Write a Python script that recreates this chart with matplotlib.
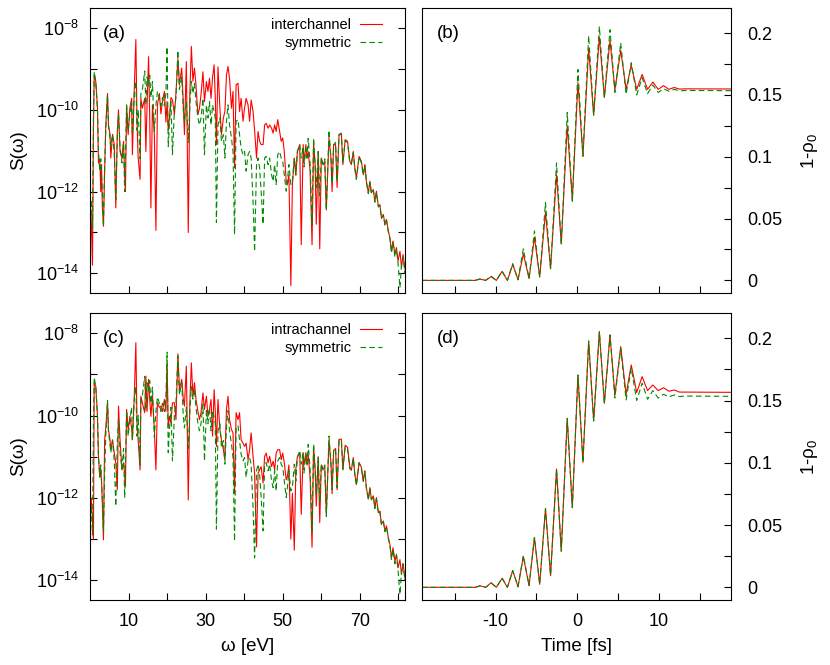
import numpy as np
import matplotlib
matplotlib.use("Agg")
import matplotlib.pyplot as plt
from matplotlib.ticker import NullLocator

plt.rcParams["font.family"] = ["Liberation Sans", "DejaVu Sans"]
plt.rcParams["mathtext.default"] = "regular"

# photon energy grid shared by the spectra [eV]
omega = [
    0.0, 0.3, 0.65, 0.9, 1.1, 1.5, 1.95, 2.2, 2.55, 2.8,
    3.0, 3.2, 3.5, 3.8, 4.1, 4.55, 4.8, 5.2, 5.4, 5.85,
    6.3, 6.7, 7.1, 7.4, 7.8, 8.3, 8.7, 9.0, 9.2, 9.5,
    9.9, 10.35, 10.8, 11.0, 11.5, 11.9, 12.2, 12.5, 13.0, 13.2,
    13.6, 14.2, 14.5, 14.8, 15.2, 15.5, 15.8, 16.2, 16.7, 17.1,
    17.5, 18.0, 18.4, 18.8, 19.3, 19.7, 20.0, 20.3, 20.6, 21.0,
    21.4, 21.9, 22.3, 22.8, 23.2, 23.8, 24.2, 24.5, 25.0, 25.5,
    25.9, 26.3, 26.7, 27.1, 27.5, 28.0, 28.4, 28.8, 29.3, 29.7,
    30.2, 30.6, 31.0, 31.4, 31.8, 32.2, 32.5, 32.8, 33.2, 33.7,
    34.1, 34.6, 35.0, 35.4, 35.8, 36.2, 36.7, 37.1, 37.5, 37.9,
    38.4, 38.8, 39.2, 39.7, 40.1, 40.5, 41.0, 41.4, 41.8, 42.3,
    42.7, 43.2, 43.6, 44.0, 44.4, 44.9, 45.3, 45.7, 46.2, 46.6,
    47.1, 47.5, 47.9, 48.3, 48.7, 49.2, 49.6, 50.0, 50.4, 50.9,
    51.2, 51.6, 52.1, 52.5, 53.0, 53.4, 53.8, 54.4, 54.8, 55.3,
    55.5, 56.0, 56.3, 56.6, 57.1, 57.6, 58.0, 58.4, 58.7, 59.2,
    59.6, 60.0, 60.5, 60.9, 61.3, 62.0, 62.5, 62.8, 63.2, 63.7,
    64.1, 64.6, 65.2, 65.6, 66.2, 66.8, 67.4, 67.8, 68.3, 68.7,
    69.1, 69.8, 70.4, 70.9, 71.3, 71.7, 72.2, 72.6, 73.0, 73.5,
    73.9, 74.3, 74.8, 75.2, 75.6, 76.1, 76.5, 76.9, 77.4, 77.8,
    78.2, 78.6, 79.1, 79.5, 79.9, 80.4, 80.8, 81.2, 81.7, 82.0,
]

# log10 S(omega)
inter_log = [
    -12.15, -12.6, -13.8, -10.5, -9.15, -9.3, -9.95, -11.3, -11.2, -12.0,
    -11.34, -12.36, -12.85, -11.5, -10.37, -9.6, -10.37, -10.6, -11.18, -10.6,
    -10.85, -12.4, -10.5, -10.0, -11.02, -11.18, -10.77, -11.6, -12.0, -9.9,
    -10.61, -9.96, -9.72, -11.1, -9.47, -8.28, -10.28, -11.18, -11.7, -9.72,
    -9.96, -9.72, -11.02, -9.9, -8.7, -10.2, -12.4, -9.88, -10.61, -12.95,
    -9.88, -9.6, -10.1, -9.8, -9.55, -10.3, -9.8, -10.5, -10.2, -9.7,
    -9.76, -10.12, -9.6, -8.75, -9.39, -8.98, -9.8, -10.61, -8.82, -13.0,
    -9.6, -8.45, -9.3, -8.98, -9.4, -10.12, -9.96, -9.63, -9.07, -9.8,
    -9.31, -9.55, -9.23, -9.72, -9.2, -8.9, -9.7, -10.85, -8.95, -9.96,
    -10.61, -10.2, -10.04, -9.15, -8.94, -9.23, -9.96, -9.55, -11.42, -9.39,
    -9.35, -10.04, -9.72, -10.28, -9.96, -9.72, -9.88, -10.28, -9.76, -10.04,
    -10.5, -11.18, -10.53, -10.77, -10.85, -10.85, -10.37, -10.33, -10.45, -10.37,
    -10.45, -10.57, -10.37, -10.53, -10.24, -10.53, -10.77, -10.69, -11.02, -11.75,
    -11.83, -11.59, -14.3, -11.83, -11.18, -11.6, -11.02, -10.85, -13.3, -10.85,
    -11.3, -10.85, -11.18, -11.02, -11.5, -13.3, -10.8, -11.34, -12.8, -11.02,
    -13.4, -11.18, -11.34, -11.26, -12.45, -10.69, -11.18, -12.0, -10.85, -10.85,
    -11.9, -10.61, -10.57, -11.34, -10.73, -10.77, -11.26, -11.34, -11.02, -11.42,
    -11.67, -11.14, -11.26, -11.59, -11.34, -11.75, -12.03, -11.75, -12.03, -11.95,
    -12.24, -11.99, -12.36, -12.32, -12.64, -12.56, -12.8, -12.68, -12.97, -13.13,
    -13.46, -13.21, -13.54, -13.37, -13.7, -13.46, -13.86, -13.54, -13.9, -13.8,
]

intra_log = [
    -12.29, -12.0, -12.5, -13.0, -9.2, -9.28, -10.02, -11.0, -11.48, -11.32,
    -11.6, -12.13, -13.02, -10.59, -10.3, -9.69, -10.34, -10.6, -10.83, -10.59,
    -10.91, -11.15, -11.8, -9.77, -10.59, -11.32, -11.15, -11.4, -11.72, -9.85,
    -10.34, -10.02, -10.3, -10.59, -9.53, -8.23, -10.18, -10.6, -11.32, -9.53,
    -9.7, -9.93, -9.04, -9.9, -9.12, -9.6, -10.02, -9.53, -10.34, -11.32,
    -9.69, -9.8, -9.77, -9.9, -9.61, -9.9, -8.72, -10.3, -10.02, -10.18,
    -9.69, -9.69, -10.1, -8.5, -9.37, -9.12, -9.6, -9.77, -8.8, -12.05,
    -9.7, -8.72, -9.53, -9.2, -9.61, -9.9, -10.1, -9.93, -9.45, -9.85,
    -9.53, -10.02, -9.85, -9.61, -10.5, -9.37, -9.9, -10.75, -9.61, -10.34,
    -10.59, -10.83, -11.07, -9.85, -9.53, -10.1, -10.34, -10.42, -11.89, -9.93,
    -10.1, -9.93, -10.59, -10.67, -10.75, -10.67, -11.07, -10.83, -10.42, -10.99,
    -11.4, -13.19, -11.4, -11.32, -11.24, -11.64, -10.99, -10.91, -11.15, -10.99,
    -11.24, -11.11, -11.32, -10.91, -10.83, -10.83, -11.07, -10.91, -11.15, -11.56,
    -11.48, -11.2, -13.0, -11.89, -13.27, -11.3, -11.0, -10.9, -12.4, -10.9,
    -11.2, -10.9, -11.2, -10.95, -11.5, -13.2, -10.75, -11.3, -12.2, -11.0,
    -12.6, -11.2, -11.3, -11.25, -12.4, -10.6, -11.15, -11.9, -10.85, -10.8,
    -11.8, -10.58, -10.57, -11.32, -10.72, -10.77, -11.25, -11.33, -11.02, -11.42,
    -11.67, -11.14, -11.26, -11.59, -11.34, -11.75, -12.03, -11.75, -12.03, -11.95,
    -12.24, -11.99, -12.36, -12.32, -12.64, -12.56, -12.8, -12.68, -12.97, -13.13,
    -13.46, -13.21, -13.54, -13.37, -13.7, -13.5, -13.86, -13.6, -13.95, -13.8,
]

sym_log = [
    -12.6, -12.2, -12.9, -10.2, -9.07, -9.3, -10.0, -11.0, -11.5, -11.2,
    -11.6, -12.0, -12.85, -11.4, -10.5, -9.63, -10.4, -10.7, -10.9, -10.6,
    -11.1, -12.2, -10.6, -10.1, -10.9, -11.3, -10.8, -12.0, -11.2, -9.88,
    -10.5, -10.1, -9.8, -10.6, -9.6, -9.3, -10.5, -10.0, -11.2, -9.6,
    -9.5, -9.05, -9.88, -9.2, -9.4, -9.15, -9.7, -9.31, -10.53, -9.9,
    -9.55, -9.7, -9.9, -9.7, -9.9, -9.6, -8.46, -10.9, -10.37, -9.8,
    -11.1, -10.0, -9.7, -8.55, -9.5, -9.2, -10.0, -10.3, -9.8, -10.8,
    -9.9, -9.3, -9.6, -9.35, -9.8, -10.2, -10.37, -10.2, -9.72, -11.1,
    -9.88, -10.2, -9.8, -10.37, -9.88, -10.04, -10.2, -12.76, -10.37, -10.2,
    -10.77, -10.61, -11.18, -10.28, -9.88, -10.37, -10.69, -11.02, -13.05, -10.28,
    -10.24, -10.61, -10.94, -11.1, -11.02, -11.5, -11.1, -11.02, -11.18, -12.24,
    -13.46, -11.34, -11.18, -11.42, -11.99, -12.8, -11.18, -11.14, -11.34, -11.18,
    -11.59, -11.75, -11.34, -11.83, -11.1, -11.02, -11.18, -11.26, -11.59, -11.99,
    -11.75, -11.34, -11.83, -11.75, -11.18, -11.59, -11.02, -10.85, -11.18, -10.9,
    -11.4, -10.95, -11.18, -10.7, -11.3, -12.8, -10.69, -11.34, -11.9, -11.02,
    -12.1, -11.18, -11.34, -11.2, -12.45, -10.5, -11.18, -11.8, -10.85, -10.8,
    -11.75, -10.6, -10.6, -11.3, -10.75, -10.8, -11.3, -11.3, -11.05, -11.45,
    -11.7, -11.15, -11.3, -11.6, -11.36, -11.78, -12.05, -11.78, -12.05, -11.97,
    -12.26, -12.02, -12.38, -12.34, -12.66, -12.58, -12.82, -12.7, -13.0, -13.15,
    -13.5, -13.25, -13.6, -13.4, -13.75, -14.35, -13.8, -13.6, -14.0, -13.85,
]

# time grid for the ground state depletion [fs]
time = [
    -19.0, -13.2, -12.5, -11.9, -11.2, -10.55, -9.9, -9.2, -8.55, -7.9,
    -7.25, -6.6, -5.9, -5.24, -4.6, -3.89, -3.27, -2.54, -1.96, -1.23,
    -0.61, 0.08, 0.69, 1.39, 2.0, 2.7, 3.31, 4.0, 4.6, 5.31,
    5.97, 6.6, 7.27, 7.93, 8.6, 9.24, 9.9, 10.55, 11.2, 11.86,
    12.5, 13.2, 19.0,
]
inter_rho = [
    0.0, 0.0, 0.0, 0.001, 0.0, 0.003, 0.0, 0.0072, 0.0, 0.0129,
    0.0005, 0.0214, 0.0015, 0.0348, 0.0027, 0.055, 0.0094, 0.0857, 0.0295, 0.125,
    0.065, 0.160, 0.1004, 0.1875, 0.1335, 0.1968, 0.148, 0.194, 0.154, 0.186,
    0.1545, 0.174, 0.1545, 0.1666, 0.1545, 0.1604, 0.1545, 0.1575, 0.1545, 0.156,
    0.1547, 0.1549, 0.1548,
]
intra_rho = [
    0.0, 0.0, 0.0, 0.0012, 0.0, 0.0037, 0.0, 0.0072, 0.0, 0.0134,
    0.0005, 0.0246, 0.0013, 0.040, 0.0024, 0.0634, 0.0093, 0.095, 0.029, 0.1357,
    0.064, 0.1705, 0.1004, 0.1978, 0.1336, 0.2053, 0.1478, 0.2027, 0.1545, 0.1933,
    0.155, 0.1786, 0.1565, 0.1692, 0.158, 0.1625, 0.158, 0.1603, 0.1575, 0.1585,
    0.1568, 0.1568, 0.1566,
]
sym_rho = [
    0.0, 0.0, 0.0, 0.0012, 0.0, 0.0035, 0.0, 0.0075, 0.0, 0.0135,
    0.0005, 0.0255, 0.0015, 0.040, 0.0025, 0.063, 0.0094, 0.095, 0.029, 0.1357,
    0.064, 0.1705, 0.1004, 0.1978, 0.1336, 0.2053, 0.1478, 0.2027, 0.152, 0.192,
    0.1505, 0.176, 0.150, 0.164, 0.151, 0.158, 0.152, 0.155, 0.153, 0.1545,
    0.1532, 0.1536, 0.1534,
]

RED = "#ff0000"
GREEN = "#008a00"
TICK_FS = 13
LABEL_FS = 13.5


def spectrum_panel(ax, red_log, red_label, tag, bottom):
    """log-scale spectrum, red curve against the symmetric one"""
    ax.plot(omega, 10.0 ** np.array(red_log), color=RED, lw=0.8, label=red_label)
    ax.plot(omega, 10.0 ** np.array(sym_log), color=GREEN, lw=0.8,
            dashes=(5, 3), label="symmetric")
    ax.set_yscale("log")
    ax.set_xlim(0, 81.7)
    ax.set_ylim(3.3e-15, 3.1e-8)
    exps = range(-14, -7)
    ax.set_yticks([10.0 ** e for e in exps])
    ax.set_yticklabels([r"$10^{%d}$" % e if e % 2 == 0 else "" for e in exps])
    ax.yaxis.set_minor_locator(NullLocator())
    ax.set_xticks(range(10, 81, 10))
    ax.set_xticklabels(["10", "", "30", "", "50", "", "70", ""] if bottom else [])
    ax.tick_params(direction="in", length=5, width=0.8, right=True, top=False,
                   labelsize=TICK_FS)
    ax.tick_params(axis="y", pad=8)
    ax.tick_params(axis="x", pad=9)
    ax.set_ylabel("S(ω)", fontsize=LABEL_FS, labelpad=6)
    if bottom:
        ax.set_xlabel("ω [eV]", fontsize=LABEL_FS, labelpad=6)
    ax.text(0.04, 0.912, tag, transform=ax.transAxes, fontsize=LABEL_FS, va="center")
    ax.legend(loc="upper right", bbox_to_anchor=(0.927, 0.965), markerfirst=False,
              frameon=False, fontsize=10.5, handlelength=1.5, labelspacing=0.3,
              borderpad=0, borderaxespad=0, handletextpad=0.6)


def depletion_panel(ax, red_rho, tag, bottom):
    """ground state depletion 1-rho_0 against time"""
    ax.plot(time, red_rho, color=RED, lw=0.8)
    ax.plot(time, sym_rho, color=GREEN, lw=0.8, dashes=(5, 3))
    ax.set_xlim(-19, 18.8)
    ax.set_ylim(-0.0102, 0.2203)
    ax.yaxis.tick_right()
    ax.yaxis.set_label_position("right")
    ax.set_yticks([0, 0.025, 0.05, 0.075, 0.1, 0.125, 0.15, 0.175, 0.2])
    ax.set_yticklabels(["0", "", "0.05", "", "0.1", "", "0.15", "", "0.2"])
    ax.set_xticks([-15, -10, -5, 0, 5, 10, 15])
    ax.set_xticklabels(["", "-10", "", "0", "", "10", ""] if bottom else [])
    ax.tick_params(direction="in", length=5, width=0.8, left=False, right=True,
                   top=False, labelsize=TICK_FS)
    ax.tick_params(axis="y", pad=12)
    ax.tick_params(axis="x", pad=9)
    ax.set_ylabel("1-ρ$_0$", fontsize=LABEL_FS, labelpad=12)
    if bottom:
        ax.set_xlabel("Time [fs]", fontsize=LABEL_FS, labelpad=6)
    ax.text(0.048, 0.912, tag, transform=ax.transAxes, fontsize=LABEL_FS, va="center")


fig = plt.figure(figsize=(8.3, 6.65), dpi=100)
ax_a = fig.add_axes([0.1084, 0.5594, 0.3795, 0.4286])
ax_b = fig.add_axes([0.5084, 0.5594, 0.3723, 0.4286])
ax_c = fig.add_axes([0.1084, 0.0977, 0.3795, 0.4316])
ax_d = fig.add_axes([0.5084, 0.0977, 0.3723, 0.4316])
for ax in (ax_a, ax_b, ax_c, ax_d):
    for s in ax.spines.values():
        s.set_linewidth(0.8)

spectrum_panel(ax_a, inter_log, "interchannel", "(a)", False)
depletion_panel(ax_b, inter_rho, "(b)", False)
spectrum_panel(ax_c, intra_log, "intrachannel", "(c)", True)
depletion_panel(ax_d, intra_rho, "(d)", True)

fig.savefig("out.png", dpi=100)
